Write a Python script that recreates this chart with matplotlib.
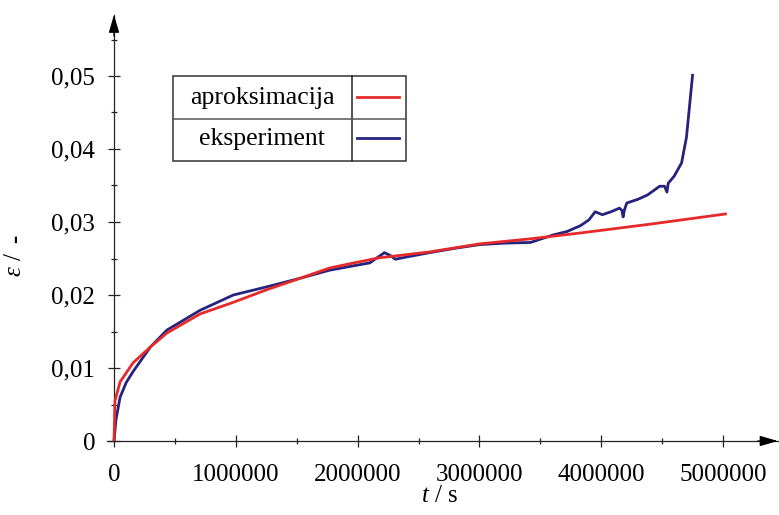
import numpy as np
import matplotlib
matplotlib.use('Agg')
from matplotlib import pyplot as plt
from matplotlib.ticker import FuncFormatter, MultipleLocator
from matplotlib.patches import Rectangle
from matplotlib.lines import Line2D

# ocitane vrijednosti (t u milijunima sekundi)
t_exp = [0, 0.016, 0.05, 0.1, 0.156, 0.3, 0.435, 0.706, 0.98, 1.25,
         1.53, 1.77, 2.0, 2.10, 2.16, 2.22, 2.27, 2.31, 2.4, 2.59,
         2.8, 3.0, 3.2, 3.42, 3.6, 3.72, 3.83, 3.9, 3.95, 4.01,
         4.08, 4.15, 4.17, 4.18, 4.19, 4.21, 4.3, 4.38, 4.48, 4.52,
         4.54, 4.55, 4.6, 4.66, 4.70, 4.75]
eps_exp = [0, .0029, .0060, .0080, .0095, .0129, .0152, .0179, .0200, .0211,
           .0223, .0234, .0241, .0244, .0251, .0258, .0254, .0249, .0252, .0258,
           .0264, .0269, .0271, .0272, .0282, .0287, .0295, .0303, .0314, .0310,
           .0314, .0319, .0316, .0307, .0316, .0326, .0331, .0337, .0349, .0349,
           .0341, .0353, .0363, .0381, .0416, .0501]
t_apr = [0, 0.008, 0.05, 0.156, 0.3, 0.435, 0.706, 0.98, 1.25, 1.53,
         1.77, 2.0, 2.18, 2.59, 3.0, 3.42, 3.83, 4.4, 5.02]
eps_apr = [0, .0055, .0081, .0107, .0129, .0148, .0174, .0190, .0207, .0223,
           .0237, .0245, .0251, .0259, .0270, .0277, .0285, .0297, .0311]
labels = ['aproksimacija', 'eksperiment']
colors = ['#e62a2a', '#25237e']

plt.rcParams['font.family'] = ['Liberation Serif', 'DejaVu Serif']
plt.rcParams['mathtext.fontset'] = 'custom'
plt.rcParams['mathtext.it'] = 'Liberation Serif:italic'
plt.rcParams['mathtext.rm'] = 'Liberation Serif'
fs = 18

W, H = 779, 515
fig = plt.figure(figsize=(W/100, H/100), dpi=100)
# os: x=0 na px 114, 1e6 = 121.8 px; y=0 na px 441, 0.001 = 7.3 px
x0, xs = 114, 121.8
y0, ys = 441, 7.3
xmin, xmax = -0.06e6, 5.45e6
ymin, ymax = 0, 0.0584
left = (x0 + xmin/1e6*xs)/W
right = (x0 + xmax/1e6*xs)/W
bottom = (H - y0)/H
top = (H - (y0 - ymax*1000*ys))/H
ax = fig.add_axes([left, bottom, right-left, top-bottom])

ax.plot(np.array(t_exp)*1e6, eps_exp, color=colors[1], lw=2.0, zorder=3,
        solid_joinstyle='round')
ax.plot(np.array(t_apr)*1e6, eps_apr, color=colors[0], lw=2.0, zorder=4,
        solid_joinstyle='round')

ax.set_xlim(xmin, xmax)
ax.set_ylim(ymin, ymax)
ax.spines['top'].set_visible(False)
ax.spines['right'].set_visible(False)
ax.spines['left'].set_position(('data', 0))
ax.spines['bottom'].set_position(('data', 0))
for s in ['left', 'bottom']:
    ax.spines[s].set_color('#222222')
    ax.spines[s].set_linewidth(0.9)

ax.xaxis.set_minor_locator(MultipleLocator(5e5))
ax.yaxis.set_minor_locator(MultipleLocator(0.005))
ax.set_xticks([0, 1e6, 2e6, 3e6, 4e6, 5e6])
ax.set_yticks([0, 0.01, 0.02, 0.03, 0.04, 0.05])
ax.xaxis.set_major_formatter(FuncFormatter(lambda v, p: '%d' % round(v)))
ax.yaxis.set_major_formatter(FuncFormatter(
    lambda v, p: '0' if abs(v) < 1e-9 else ('%.2f' % v).replace('.', ',')))
ax.tick_params(which='major', direction='inout', length=9, width=0.9,
               color='#222222', labelsize=fs, pad=9)
ax.tick_params(axis='x', which='major', pad=12)
ax.tick_params(which='minor', direction='inout', length=4.5, width=0.9,
               color='#222222')

# strelice na osima
ax.annotate('', xy=(1.0, 0), xytext=(0.97, 0), xycoords=ax.get_yaxis_transform(),
            textcoords=ax.get_yaxis_transform(), annotation_clip=False,
            arrowprops=dict(arrowstyle='-|>,head_length=0.55,head_width=0.16',
                            mutation_scale=20, color='black', lw=0.9,
                            shrinkA=0, shrinkB=0))
ax.annotate('', xy=(0, 1.0), xytext=(0, 0.95), xycoords=ax.get_xaxis_transform(),
            textcoords=ax.get_xaxis_transform(), annotation_clip=False,
            arrowprops=dict(arrowstyle='-|>,head_length=0.55,head_width=0.16',
                            mutation_scale=20, color='black', lw=0.9,
                            shrinkA=0, shrinkB=0))

fig.text(440/W, 1 - 496/H, r'$t$ / s', fontsize=fs, ha='center', va='center')
fig.text(15/W, 1 - 264/H, r'$\varepsilon$ /', fontsize=fs, ha='center',
         va='center', rotation=90)
fig.text(16/W, 1 - 239/H, '-', fontsize=fs, fontweight='bold', ha='center',
         va='center', rotation=90)

# legenda kao tablica
def fx(px):
    return px / W
def fy(py):
    return 1 - py / H
bx0, bx1, bxd = 173, 406, 352
by0, by1, byd = 76, 161, 119
fig.add_artist(Rectangle((fx(bx0), fy(by1)), fx(bx1) - fx(bx0), fy(by0) - fy(by1),
                         transform=fig.transFigure, fill=False,
                         edgecolor='#333333', lw=1.1))
fig.add_artist(Line2D([fx(bxd), fx(bxd)], [fy(by0), fy(by1)], color='#222222', lw=1.1))
fig.add_artist(Line2D([fx(bx0), fx(bx1)], [fy(byd), fy(byd)], color='#555555', lw=1.1))
for i, lab in enumerate(labels):
    yc = [98, 139][i]
    fig.text(fx(262), fy(yc), lab, fontsize=18.5, ha='center', va='center')
    fig.add_artist(Line2D([fx(357), fx(399)], [fy(yc - 1), fy(yc - 1)],
                          color=colors[i], lw=2.0))

plt.savefig('out.png', dpi=100)
